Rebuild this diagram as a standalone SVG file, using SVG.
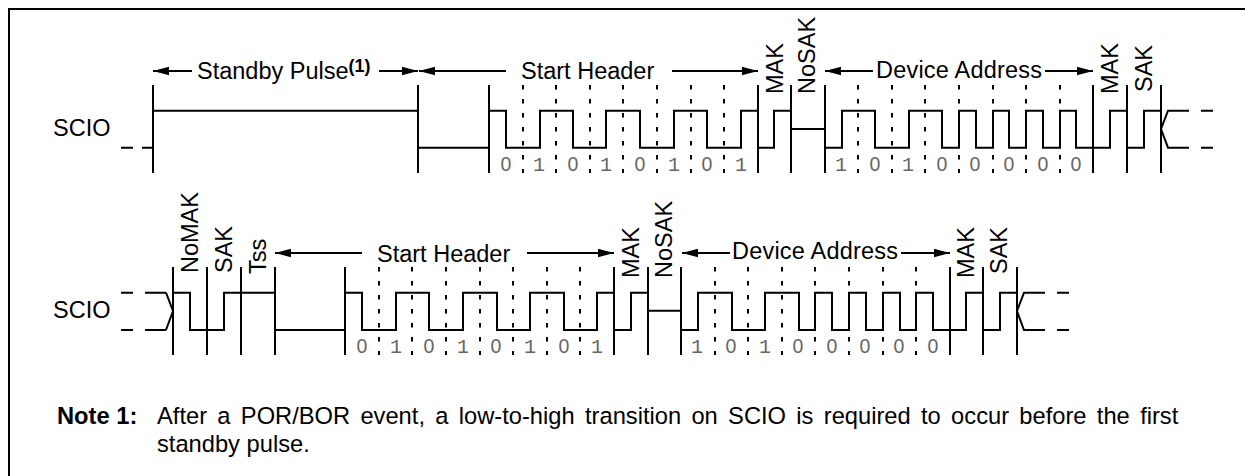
<svg xmlns="http://www.w3.org/2000/svg" width="1245" height="476" viewBox="0 0 1245 476">
<style>
.t{font-family:"Liberation Sans",Arial,sans-serif;font-size:23.5px;fill:#000}
.n{font-size:23.7px}
.z{font-family:"Liberation Sans",Arial,sans-serif;font-size:19.5px;fill:#666;text-anchor:middle}
.o{font-family:"Liberation Mono","Courier New",monospace;font-size:20px;fill:#666;text-anchor:middle}
.s{fill:none;stroke:#000;stroke-width:2}
.dash{fill:none;stroke:#000;stroke-width:2;stroke-dasharray:4.5 9.5}
.a{fill:none;stroke:#000;stroke-width:2;marker-end:url(#ar)}
</style>
<defs><marker id="ar" markerUnits="userSpaceOnUse" markerWidth="17" markerHeight="10" refX="16" refY="5" orient="auto"><path d="M0 0.8L16 5L0 9.2Z" fill="#000"/></marker></defs>
<rect width="1245" height="476" fill="#fff"/>
<path class="s" d="M9 476V9H1245"/>
<g id="connectors">
<path class="s" d="M153 85V173M418 85V173M489 85V173M758 85V173M791 85V173M825 85V173M1093 85V173M1127 85V173M1161 85V173"/>
<path class="dash" d="M523 85V173M556 85V173M590 85V173M623 85V173M657 85V173M691 85V173M724 85V173M858 85V173M892 85V173M925 85V173M959 85V173M993 85V173M1026 85V173M1060 85V173"/>
<path class="s" d="M121 147.7H133M142 147.7H153M153 110.7H418M418 147.7H489M489 110.7H506V147.7H540V110.7H573V147.7H606V110.7H640V147.7H674V110.7H707V147.7H741V110.7H758M758 147.7H774V110.7H791M791 129H825M825 147.7H842V110.7H875V147.7H909V110.7H942V147.7H959V110.7H976V147.7H993V110.7H1009V147.7H1026V110.7H1043V147.7H1060V110.7H1076V147.7H1110V110.7H1127M1127 147.7H1144V110.7H1161M1201 110.7H1213M1201 147.7H1213M1189 110.7H1168L1161 129L1168 147.7H1189"/>
<path class="a" d="M192 71H153"/><path class="a" d="M379 71H418"/><path class="a" d="M506 71H419"/><path class="a" d="M672 71H758"/>
<path class="a" d="M873 71H825"/><path class="a" d="M1045 71H1093"/>
<path class="s" d="M173 267V355M207 267V355M241 267V355M275 267V355M345 267V355M614 267V355M648 267V355M681 267V355M950 267V355M983 267V355M1017 267V355"/>
<path class="dash" d="M379 267V355M412 267V355M446 267V355M480 267V355M513 267V355M547 267V355M580 267V355M715 267V355M748 267V355M782 267V355M815 267V355M849 267V355M883 267V355M916 267V355"/>
<path class="s" d="M121 292.7H133M145 292.7H166M121 330H133M145 330H166M166 292.7L173 311L166 330M173 292.7H190V330H224V292.7H275M275 330H345M345 292.7H362V330H396V292.7H429V330H463V292.7H497V330H530V292.7H564V330H597V292.7H614M614 330H631V292.7H648M648 310.7H681M681 330H698V292.7H732V330H765V292.7H799V330H815V292.7H832V330H849V292.7H866V330H883V292.7H900V330H916V292.7H933V330H966V292.7H983M983 330H1000V292.7H1017M1045 292.7H1024L1017 311L1024 330H1045M1057 292.7H1069M1057 330H1069"/>
<path class="a" d="M362 253H275"/><path class="a" d="M527 253H614"/><path class="a" d="M730 253H682"/><path class="a" d="M901 253H950"/>
</g>
<g id="row1-labels">
<text class="t" x="53" y="136">SCIO</text>
<text class="t" x="197" y="79">Standby Pulse<tspan font-weight="bold" font-size="18" dy="-7">(1)</tspan></text>
<text class="t" x="521" y="79">Start Header</text>
<text class="t" x="876" y="78" textLength="166">Device Address</text>
<text class="t" transform="translate(783 94) rotate(-90)">MAK</text>
<text class="t" transform="translate(815 94) rotate(-90)">NoSAK</text>
<text class="t" transform="translate(1118 94) rotate(-90)">MAK</text>
<text class="t" transform="translate(1152 92) rotate(-90)">SAK</text>
</g>
<g id="row1-bits">
<text class="z" x="506" y="170.5">0</text><text class="o" x="539" y="170.5">1</text><text class="z" x="573" y="170.5">0</text><text class="o" x="606" y="170.5">1</text><text class="z" x="640" y="170.5">0</text><text class="o" x="674" y="170.5">1</text><text class="z" x="707" y="170.5">0</text><text class="o" x="741" y="170.5">1</text>
<text class="o" x="841" y="170.5">1</text><text class="z" x="875" y="170.5">0</text><text class="o" x="908" y="170.5">1</text><text class="z" x="942" y="170.5">0</text><text class="z" x="975" y="170.5">0</text><text class="z" x="1009" y="170.5">0</text><text class="z" x="1043" y="170.5">0</text><text class="z" x="1076" y="170.5">0</text>
</g>
<g id="row2-labels">
<text class="t" x="53" y="318">SCIO</text>
<text class="t" x="377" y="261.5">Start Header</text>
<text class="t" x="732" y="259" textLength="166">Device Address</text>
<text class="t" transform="translate(198 273) rotate(-90)">NoMAK</text>
<text class="t" transform="translate(232 273) rotate(-90)">SAK</text>
<text class="t" transform="translate(266 274) rotate(-90)">Tss</text>
<text class="t" transform="translate(639 278) rotate(-90)">MAK</text>
<text class="t" transform="translate(672 278) rotate(-90)">NoSAK</text>
<text class="t" transform="translate(974 278) rotate(-90)">MAK</text>
<text class="t" transform="translate(1007 274) rotate(-90)">SAK</text>
</g>
<g id="row2-bits">
<text class="z" x="362" y="352.5">0</text><text class="o" x="396" y="352.5">1</text><text class="z" x="429" y="352.5">0</text><text class="o" x="463" y="352.5">1</text><text class="z" x="496" y="352.5">0</text><text class="o" x="530" y="352.5">1</text><text class="z" x="564" y="352.5">0</text><text class="o" x="597" y="352.5">1</text>
<text class="o" x="697" y="352.5">1</text><text class="z" x="731" y="352.5">0</text><text class="o" x="765" y="352.5">1</text><text class="z" x="798" y="352.5">0</text><text class="z" x="832" y="352.5">0</text><text class="z" x="865" y="352.5">0</text><text class="z" x="899" y="352.5">0</text><text class="z" x="933" y="352.5">0</text>
</g>
<g id="note">
<text class="t n" x="57" y="424" font-weight="bold">Note 1:</text>
<text class="t n" x="157" y="424" word-spacing="3.75">After a POR/BOR event, a low-to-high transition on SCIO is required to occur before the first</text>
<text class="t n" x="157" y="452">standby pulse.</text>
</g>
</svg>
